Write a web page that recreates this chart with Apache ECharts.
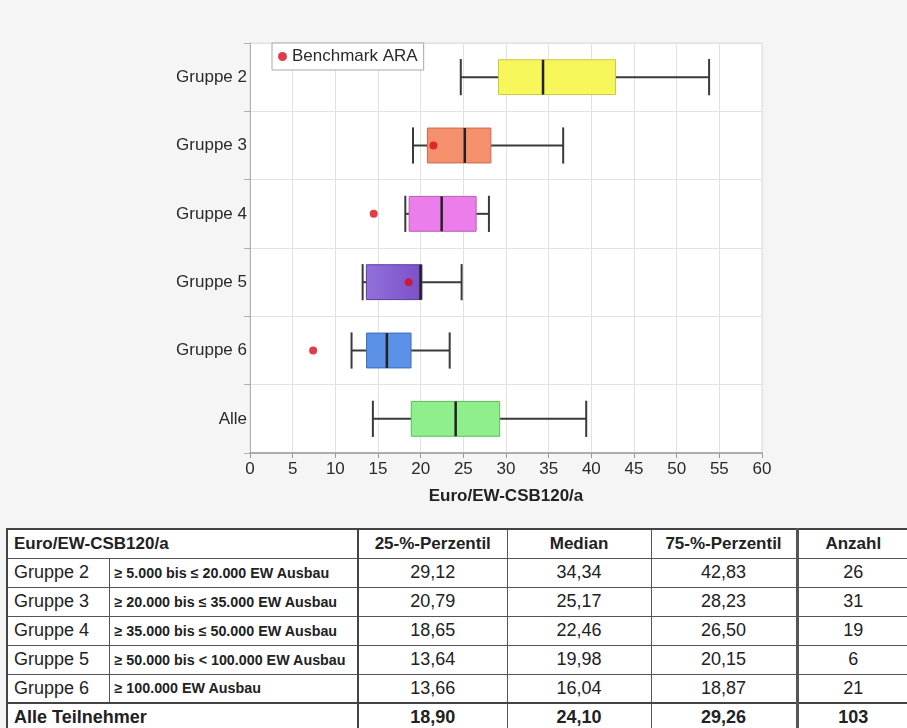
<!DOCTYPE html>
<html>
<head>
<meta charset="utf-8">
<script src="https://cdn.jsdelivr.net/npm/echarts@6/dist/echarts.min.js"></script>
<style>
  html, body { margin:0; padding:0; width:907px; height:728px; overflow:hidden; background:#f5f5f5; }
  #chart { position:absolute; left:0; top:0; width:907px; height:728px; }
  #tbl { position:absolute; left:6px; top:528px; width:902px; border-collapse:collapse; table-layout:fixed;
         font-family:"Liberation Sans", Arial, sans-serif; color:#222; background:#fff; border:2px solid #444; }
  #tbl tr { height:29px; }
  #tbl td { border:1.5px solid #555; padding:0; white-space:nowrap; overflow:hidden; font-size:18px; }
  #tbl td.lbl { padding-left:6px; text-align:left; }
  #tbl td.desc { padding-left:5px; font-weight:bold; font-size:14.3px; }
  #tbl td.num { text-align:center; }
  #tbl td.c25 { border-left:2px solid #444; }
  #tbl td.cnt { border-left:3.5px solid #555; }
  #tbl tr.hdr td { font-weight:bold; font-size:17px; }
  #tbl tr.tot td { font-weight:bold; border-top:2px solid #444; }
</style>
</head>
<body>
<div id="chart"></div>
<table id="tbl"></table>
<script>
// ---------- data ----------
const categories = ['Gruppe 2', 'Gruppe 3', 'Gruppe 4', 'Gruppe 5', 'Gruppe 6', 'Alle'];
const whiskerLow  = [24.7, 19.1, 18.2, 13.2, 11.9, 14.4];
const q1          = [29.12, 20.79, 18.65, 13.64, 13.66, 18.90];
const median      = [34.34, 25.17, 22.46, 19.98, 16.04, 24.10];
const q3          = [42.83, 28.23, 26.50, 20.15, 18.87, 29.26];
const whiskerHigh = [53.8, 36.7, 28.0, 24.8, 23.4, 39.4];
const benchmark   = [null, 21.5, 14.5, 18.6, 7.4, null];
const xTicks      = [0, 5, 10, 15, 20, 25, 30, 35, 40, 45, 50, 55, 60];

const tableTitle  = 'Euro/EW-CSB120/a';
const tableHeads  = ['25-%-Perzentil', 'Median', '75-%-Perzentil', 'Anzahl'];
const tableGroups = ['Gruppe 2', 'Gruppe 3', 'Gruppe 4', 'Gruppe 5', 'Gruppe 6'];
const tableDesc   = ['≥ 5.000 bis ≤ 20.000 EW Ausbau', '≥ 20.000 bis ≤ 35.000 EW Ausbau',
                     '≥ 35.000 bis ≤ 50.000 EW Ausbau', '≥ 50.000 bis < 100.000 EW Ausbau',
                     '≥ 100.000 EW Ausbau'];
const counts      = [26, 31, 19, 6, 21, 103];
const totalLabel  = 'Alle Teilnehmer';

// ---------- styles ----------
const boxFill = [
  '#f7f75c', '#f5906c', '#eb7eeb',
  {type:'linear', x:0, y:0, x2:1, y2:0, colorStops:[{offset:0,color:'#9470dc'},{offset:1,color:'#7a50c8'}]},
  '#5c91e8', '#8eef8c'
];
const boxStroke = ['#c8c840', '#c86a4c', '#b85cb8', '#5a3aa0', '#3d6cc0', '#5cbc5a'];
const FONT = '"Liberation Sans", Arial, sans-serif';

const boxData = categories.map((c, i) => [i, whiskerLow[i], q1[i], median[i], q3[i], whiskerHigh[i]]);
const benchData = categories.map((c, i) => benchmark[i] == null ? null : [benchmark[i], c]).filter(d => d);

const chart = echarts.init(document.getElementById('chart'), null, {renderer:'canvas'});
chart.setOption({
  animation: false,
  backgroundColor: '#f5f5f5',
  textStyle: { fontFamily: FONT },
  legend: {
    data: ['Benchmark ARA'],
    left: 272, top: 43,
    orient: 'horizontal',
    icon: 'circle', itemWidth: 9, itemHeight: 9, itemGap: 6,
    padding: [5, 6, 5, 6],
    borderColor: '#a8a8a8', borderWidth: 1,
    backgroundColor: '#fff',
    textStyle: { fontSize: 17, color: '#2a2a2a', fontFamily: FONT }
  },
  grid: {
    left: 250, top: 43, width: 512, height: 410,
    show: true, backgroundColor: '#fff', borderColor: '#dcdcdc', borderWidth: 1
  },
  xAxis: {
    type: 'value', min: xTicks[0], max: xTicks[xTicks.length - 1], interval: xTicks[1] - xTicks[0],
    name: 'Euro/EW-CSB120/a', nameLocation: 'middle', nameGap: 35,
    nameTextStyle: { fontSize: 17, fontWeight: 'bold', color: '#222', fontFamily: FONT },
    axisLine: { show: true, lineStyle: { color: '#9a9a9a', width: 1.5 } },
    axisTick: { show: true, length: 5, lineStyle: { color: '#9a9a9a' } },
    axisLabel: { fontSize: 17, color: '#2a2a2a', margin: 8, fontFamily: FONT },
    splitLine: { show: true, lineStyle: { color: '#e2e2e2' } }
  },
  yAxis: {
    type: 'category', data: categories, inverse: true,
    axisLine: { show: true, lineStyle: { color: '#b0b0b0' } },
    axisTick: { show: true, length: 6, alignWithLabel: false, lineStyle: { color: '#b0b0b0' } },
    axisLabel: { fontSize: 17, color: '#2a2a2a', margin: 3, fontFamily: FONT },
    splitLine: { show: true, lineStyle: { color: '#e2e2e2' } }
  },
  series: [
    {
      name: 'Box',
      type: 'custom',
      data: boxData,
      encode: { x: [1, 2, 3, 4, 5], y: 0 },
      z: 3,
      renderItem: function (params, api) {
        const ci = api.value(0);
        const i = params.dataIndex;
        const pMin = api.coord([api.value(1), ci]);
        const pQ1  = api.coord([api.value(2), ci]);
        const pMed = api.coord([api.value(3), ci]);
        const pQ3  = api.coord([api.value(4), ci]);
        const pMax = api.coord([api.value(5), ci]);
        const band = api.size([0, 1])[1];
        const bh = band * 0.51;
        const ch = band * 0.53;
        const y = pMed[1];
        const wStyle = { stroke: '#3a3a3a', lineWidth: 2 };
        return {
          type: 'group',
          children: [
            { type: 'line', shape: { x1: pMin[0], y1: y, x2: pQ1[0], y2: y }, style: wStyle },
            { type: 'line', shape: { x1: pQ3[0], y1: y, x2: pMax[0], y2: y }, style: wStyle },
            { type: 'line', shape: { x1: pMin[0], y1: y - ch / 2, x2: pMin[0], y2: y + ch / 2 }, style: wStyle },
            { type: 'line', shape: { x1: pMax[0], y1: y - ch / 2, x2: pMax[0], y2: y + ch / 2 }, style: wStyle },
            { type: 'rect', shape: { x: pQ1[0], y: y - bh / 2, width: pQ3[0] - pQ1[0], height: bh },
              style: { fill: boxFill[i], stroke: boxStroke[i], lineWidth: 1 } },
            { type: 'line', shape: { x1: pMed[0], y1: y - bh / 2, x2: pMed[0], y2: y + bh / 2 },
              style: { stroke: '#222', lineWidth: 2.5 } }
          ]
        };
      }
    },
    {
      name: 'Benchmark ARA',
      type: 'scatter',
      data: benchData,
      symbol: 'circle',
      symbolSize: 8,
      z: 5,
      itemStyle: { color: '#d80c1c' }
    }
  ]
});

// ---------- table ----------
const fmt = v => v.toFixed(2).replace('.', ',');
let html = '<colgroup><col style="width:102px"><col style="width:249px"><col style="width:149px">' +
           '<col style="width:144px"><col style="width:146px"><col style="width:112px"></colgroup>';
html += '<tr class="hdr"><td class="lbl" colspan="2">' + tableTitle + '</td>' +
        '<td class="num c25">' + tableHeads[0] + '</td><td class="num">' + tableHeads[1] + '</td>' +
        '<td class="num">' + tableHeads[2] + '</td><td class="num cnt">' + tableHeads[3] + '</td></tr>';
tableGroups.forEach((g, i) => {
  html += '<tr><td class="lbl">' + g + '</td><td class="desc">' + tableDesc[i] + '</td>' +
          '<td class="num c25">' + fmt(q1[i]) + '</td><td class="num">' + fmt(median[i]) + '</td>' +
          '<td class="num">' + fmt(q3[i]) + '</td><td class="num cnt">' + counts[i] + '</td></tr>';
});
const t = categories.length - 1;
html += '<tr class="tot"><td class="lbl" colspan="2">' + totalLabel + '</td>' +
        '<td class="num c25">' + fmt(q1[t]) + '</td><td class="num">' + fmt(median[t]) + '</td>' +
        '<td class="num">' + fmt(q3[t]) + '</td><td class="num cnt">' + counts[t] + '</td></tr>';
document.getElementById('tbl').innerHTML = html;
</script>
</body>
</html>
